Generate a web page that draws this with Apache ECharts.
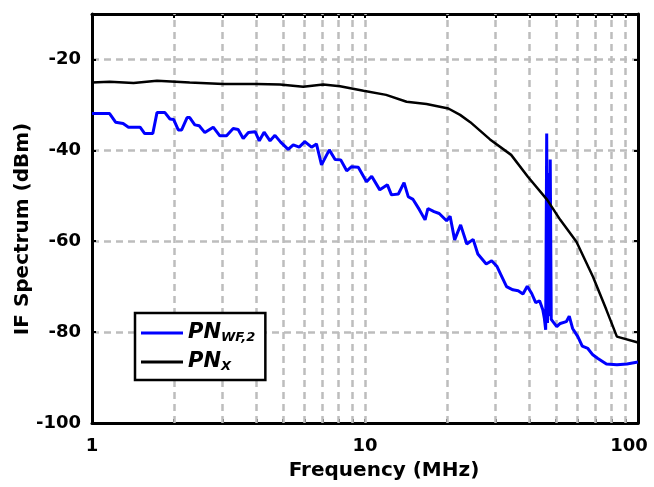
<!DOCTYPE html>
<html>
<head>
<meta charset="utf-8">
<script src="https://cdn.jsdelivr.net/npm/echarts@6/dist/echarts.min.js"></script>
<style>
  html, body { margin: 0; padding: 0; background: #fff; }
  #chart { width: 654px; height: 487px; }
</style>
</head>
<body>
<div id="chart"></div>
<script>
// IF spectrum of the two phase-noise paths versus frequency (log scale)
const freqWF = [1.0, 1.16, 1.22, 1.30, 1.36, 1.50, 1.56, 1.67, 1.73, 1.85, 1.93, 1.99, 2.07, 2.13, 2.23, 2.28,
  2.38, 2.47, 2.59, 2.78, 2.94, 3.11, 3.29, 3.43, 3.58, 3.74, 3.96, 4.10, 4.27, 4.49, 4.68, 4.91,
  5.23, 5.46, 5.74, 6.02, 6.37, 6.64, 6.93, 7.40, 7.77, 8.15, 8.57, 8.93, 9.45, 10.13, 10.58, 11.33,
  12.08, 12.5, 13.25, 13.9, 14.4, 15.0, 15.8, 16.6, 17.0, 17.9, 18.7, 19.9, 20.5, 21.3, 22.4, 23.6,
  24.9, 25.9, 27.8, 29.1, 30.4, 31.7, 33.0, 34.8, 36.4, 37.9, 39.3, 40.8, 42.2, 43.6, 44.8, 45.4,
  45.9, 46.3, 46.6, 47.0, 47.3, 47.7, 48.1, 48.9, 50.4, 51.9, 54.6, 56.0, 57.6, 60.2, 62.5, 65.5,
  68.3, 71.3, 76.6, 83.7, 91.1, 100];
const levelWF = [-31.9, -31.9, -33.8, -34.1, -34.9, -34.9, -36.3, -36.3, -31.7, -31.7, -33.1, -33.2, -35.5, -35.5, -32.8, -32.8,
  -34.4, -34.6, -36.1, -34.9, -36.8, -36.8, -35.2, -35.4, -37.4, -36.1, -35.9, -37.9, -36.0, -37.9, -36.7, -38.2,
  -39.8, -38.8, -39.3, -38.1, -39.3, -38.6, -43.2, -39.9, -42.0, -42.1, -44.5, -43.6, -43.7, -46.9, -45.7, -48.7,
  -47.6, -49.8, -49.6, -47.1, -50.2, -50.8, -53.0, -55.3, -52.8, -53.5, -53.9, -55.5, -54.5, -59.7, -56.4, -60.6,
  -59.6, -62.8, -65.0, -64.3, -65.5, -67.8, -70.0, -70.7, -70.9, -71.6, -69.9, -71.5, -73.5, -73.1, -75.1, -77.0,
  -79.5, -36.3, -78.0, -45.0, -76.5, -42.0, -77.2, -77.0, -78.8, -78.1, -77.7, -76.5, -79.2, -81.0, -83.1, -83.6,
  -85.0, -85.8, -87.0, -87.2, -87.0, -86.6];

const freqX = [1.0, 1.16, 1.42, 1.73, 2.28, 3.03, 4.01, 4.88, 5.94, 7.03, 8.1, 9.87, 11.95, 14.2, 16.8, 20.2,
  22.3, 24.3, 28.7, 34.3, 39.5, 46.5, 51.9, 59.5, 68.4, 76.6, 83.7, 100];
const levelX = [-25.1, -24.9, -25.2, -24.7, -25.1, -25.4, -25.4, -25.5, -26.0, -25.5, -25.9, -26.9, -27.8, -29.3, -29.8, -30.8,
  -32.2, -33.8, -37.6, -41.0, -45.8, -50.9, -55.3, -60.1, -67.8, -75.1, -81.0, -82.3];

const seriesNames = ['PN_WF2', 'PN_X'];
const decadeGrid = [2, 3, 4, 5, 6, 7, 8, 9, 10, 20, 30, 40, 50, 60, 70, 80, 90];
const logTicks = [1, 2, 3, 4, 5, 6, 7, 8, 9, 10, 20, 30, 40, 50, 60, 70, 80, 90, 100];

const FONT = '"DejaVu Sans", Verdana, sans-serif';
const gridDash = { color: '#bdbdbd', width: 2.5, type: [7, 5] };

function pairs(xs, ys) { return xs.map((x, i) => [x, ys[i]]); }

const labelFont = { fontFamily: FONT, fontWeight: 'bold', fontSize: 18, color: '#000' };

const xBase = {
  type: 'log', logBase: 10, min: 1, max: 100,
  axisLine: { show: true, onZero: false, lineStyle: { color: '#000', width: 3 } },
  axisTick: { show: true, inside: true, length: 4, customValues: logTicks, lineStyle: { color: '#000', width: 2 } },
  splitLine: { show: false },
  minorTick: { show: false }
};
const yBase = {
  type: 'value', min: -100, max: -10, interval: 20,
  axisLine: { show: true, onZero: false, lineStyle: { color: '#000', width: 3 } },
  axisTick: { show: true, inside: true, length: 4, lineStyle: { color: '#000', width: 2 } }
};

const chart = echarts.init(document.getElementById('chart'), null, { renderer: 'canvas' });
chart.setOption({
  animation: false,
  backgroundColor: '#fff',
  grid: { left: 92, right: 16, top: 14, bottom: 64, containLabel: false, outerBoundsMode: 'none' },
  xAxis: [
    Object.assign({}, xBase, {
      position: 'bottom',
      name: 'Frequency (MHz)', nameLocation: 'middle', nameGap: 38, nameMoveOverlap: false,
      nameTextStyle: { fontFamily: FONT, fontWeight: 'bold', fontSize: 20, color: '#000', padding: [0, 0, 0, 38] },
      axisLabel: Object.assign({ margin: 14,
        formatter: v => {
          const s = String(Math.round(v));
          return v >= 100 ? '{end|' + s + '}' : s;
        },
        rich: { end: Object.assign({ padding: [0, 18, 0, 0] }, labelFont) }
      }, labelFont)
    }),
    Object.assign({}, xBase, { position: 'top', axisLabel: { show: false } })
  ],
  yAxis: [
    Object.assign({}, yBase, {
      position: 'left',
      name: 'IF Spectrum (dBm)', nameLocation: 'middle', nameGap: 59, nameMoveOverlap: false,
      nameTextStyle: { fontFamily: FONT, fontWeight: 'bold', fontSize: 20, color: '#000', padding: [0, 21, 0, 0] },
      axisLabel: Object.assign({ margin: 11, showMaxLabel: false }, labelFont),
      splitLine: { show: true, lineStyle: gridDash }
    }),
    Object.assign({}, yBase, { position: 'right', axisLabel: { show: false }, splitLine: { show: false } })
  ],
  legend: {
    data: seriesNames,
    orient: 'vertical',
    left: 135, top: 313,
    padding: [9, 10, 7, 6],
    itemGap: 7,
    itemWidth: 42, itemHeight: 3,
    icon: 'rect',
    borderColor: '#000', borderWidth: 2.5,
    backgroundColor: '#fff',
    formatter: name => name === 'PN_WF2' ? '{a|PN}{s|WF,2}' : '{a|PN}{s|X}',
    textStyle: {
      rich: {
        a: { fontFamily: FONT, fontWeight: 'bold', fontStyle: 'italic', fontSize: 21, color: '#000', lineHeight: 28 },
        s: { fontFamily: FONT, fontWeight: 'bold', fontStyle: 'italic', fontSize: 13, color: '#000', lineHeight: 28, padding: [9, 0, 0, 0] }
      }
    }
  },
  series: [
    {
      name: 'grid-verticals', type: 'line', data: [], silent: true,
      markLine: {
        silent: true, symbol: ['none', 'none'], z: 1,
        label: { show: false },
        lineStyle: gridDash,
        data: decadeGrid.map(v => ({ xAxis: v }))
      }
    },
    {
      name: 'PN_WF2', type: 'line', z: 3,
      data: pairs(freqWF, levelWF),
      showSymbol: false, symbol: 'none',
      lineStyle: { color: '#0000ff', width: 3 },
      itemStyle: { color: '#0000ff' }
    },
    {
      name: 'PN_X', type: 'line', z: 3,
      data: pairs(freqX, levelX),
      showSymbol: false, symbol: 'none',
      lineStyle: { color: '#000', width: 2.5 },
      itemStyle: { color: '#000' }
    }
  ]
});
</script>
</body>
</html>
